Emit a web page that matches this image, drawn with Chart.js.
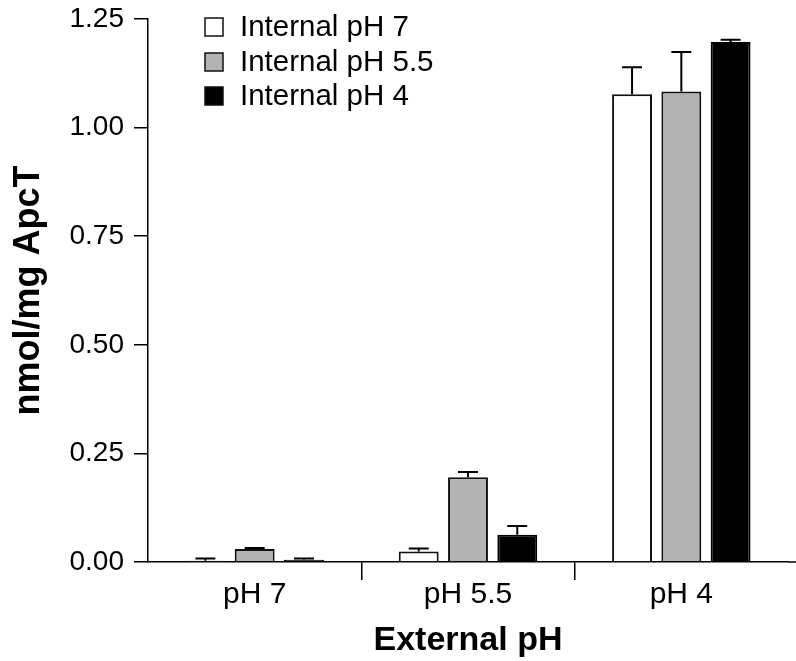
<!DOCTYPE html>
<html>
<head>
<meta charset="utf-8">
<script src="https://cdn.jsdelivr.net/npm/chart.js@4.4.0/dist/chart.umd.min.js"></script>
<style>
  html, body { margin: 0; padding: 0; background: #fff; }
  #wrap { width: 796px; height: 661px; }
</style>
</head>
<body>
<div id="wrap"><canvas id="myChart" width="796" height="661"></canvas></div>
<script>
var categories = ["pH 7", "pH 5.5", "pH 4"];
var seriesNames = ["Internal pH 7", "Internal pH 5.5", "Internal pH 4"];
var internal7 = [0.003, 0.024, 1.077];
var internal55 = [0.030, 0.195, 1.083];
var internal4 = [0.005, 0.063, 1.197];
var err7 = [0.005, 0.007, 0.062];
var err55 = [0.002, 0.012, 0.091];
var err4 = [0.003, 0.020, 0.005];
var yTicks = [0, 0.25, 0.5, 0.75, 1.0, 1.25];

var FONT = 'Arial, "Liberation Sans", sans-serif';

// upper error bars only, like the original figure
var errorBars = {
  id: 'errorBars',
  afterDatasetsDraw: function(chart) {
    var c = chart.ctx;
    var y = chart.scales.y;
    c.save();
    c.strokeStyle = '#000';
    c.lineWidth = 2;
    chart.data.datasets.forEach(function(ds, i) {
      var meta = chart.getDatasetMeta(i);
      meta.data.forEach(function(bar, j) {
        var top = y.getPixelForValue(ds.data[j]);
        var hi = y.getPixelForValue(ds.data[j] + ds.errors[j]);
        var half = bar.width / 4;
        c.beginPath();
        c.moveTo(bar.x, top);
        c.lineTo(bar.x, hi);
        c.moveTo(bar.x - half, hi);
        c.lineTo(bar.x + half, hi);
        c.stroke();
      });
    });
    // x axis line runs on to the edge of the figure
    var x = chart.scales.x;
    c.lineWidth = 1.5;
    c.beginPath();
    c.moveTo(x.right, y.bottom);
    c.lineTo(chart.width, y.bottom);
    c.stroke();
    c.restore();
  }
};

// legend sits inside the plot, top left
var insideLegend = {
  id: 'insideLegend',
  afterDraw: function(chart) {
    var c = chart.ctx;
    var rows = [27, 62, 96];
    c.save();
    chart.data.datasets.forEach(function(ds, i) {
      c.fillStyle = ds.backgroundColor;
      c.fillRect(205, rows[i] - 9, 18, 18);
      c.strokeStyle = '#111';
      c.lineWidth = 1.5;
      c.strokeRect(205, rows[i] - 9, 18, 18);
      c.fillStyle = '#000';
      c.font = '29.5px ' + FONT;
      c.textBaseline = 'middle';
      c.fillText(seriesNames[i], 240, rows[i] + 1);
    });
    c.restore();
  }
};

window.onload = function(){
  var ctx = document.getElementById("myChart");
  var myChart = new Chart(ctx, {
    type: 'bar',
    data: {
      labels: categories,
      datasets: [{
        label: seriesNames[0],
        data: internal7,
        errors: err7,
        backgroundColor: "#ffffff",
        borderColor: "#111",
        borderWidth: 2
      }, {
        label: seriesNames[1],
        data: internal55,
        errors: err55,
        backgroundColor: "#b3b3b3",
        borderColor: "#111",
        borderWidth: 2
      }, {
        label: seriesNames[2],
        data: internal4,
        errors: err4,
        backgroundColor: "#000000",
        borderColor: "#000",
        borderWidth: 2
      }]
    },
    options: {
      responsive: false,
      animation: false,
      categoryPercentage: 0.693,
      barPercentage: 0.81,
      layout: {
        padding: { top: 19, right: 8, left: 0, bottom: 0 }
      },
      plugins: {
        legend: { display: false },
        tooltip: { enabled: false }
      },
      scales: {
        x: {
          offset: true,
          afterFit: function(scale) { scale.height = 99; scale.paddingLeft = 0; scale.paddingRight = 0; },
          border: { display: true, color: '#000', width: 1.5 },
          grid: {
            offset: true,
            drawOnChartArea: false,
            drawTicks: true,
            tickLength: 18,
            lineWidth: 1.5,
            color: function(c) { return (c.index === 1 || c.index === 2) ? '#000' : 'rgba(0,0,0,0)'; }
          },
          ticks: {
            color: '#000',
            padding: 0,
            font: { family: FONT, size: 30, lineHeight: 1 }
          },
          title: {
            display: true,
            text: 'External pH',
            color: '#000',
            padding: { top: 0, bottom: 0 },
            font: { family: FONT, size: 34, weight: 'bold', lineHeight: 1.2 }
          }
        },
        y: {
          min: 0,
          max: 1.25,
          afterFit: function(scale) { scale.width = 148; scale.paddingTop = 0; scale.paddingBottom = 0; },
          afterBuildTicks: function(scale) {
            scale.ticks = yTicks.map(function(v) { return { value: v }; });
          },
          border: { display: true, color: '#000', width: 1.5 },
          grid: {
            drawOnChartArea: false,
            drawTicks: true,
            tickLength: 14,
            lineWidth: 1.5,
            color: '#000'
          },
          ticks: {
            color: '#000',
            padding: 10,
            font: { family: FONT, size: 28 },
            callback: function(v) { return Number(v).toFixed(2); }
          },
          title: {
            display: true,
            text: 'nmol/mg ApcT',
            color: '#000',
            padding: { top: 7, bottom: 0 },
            font: { family: FONT, size: 36, weight: 'bold', lineHeight: 1.2 }
          }
        }
      }
    },
    plugins: [errorBars, insideLegend]
  });
};
</script>
</body>
</html>
